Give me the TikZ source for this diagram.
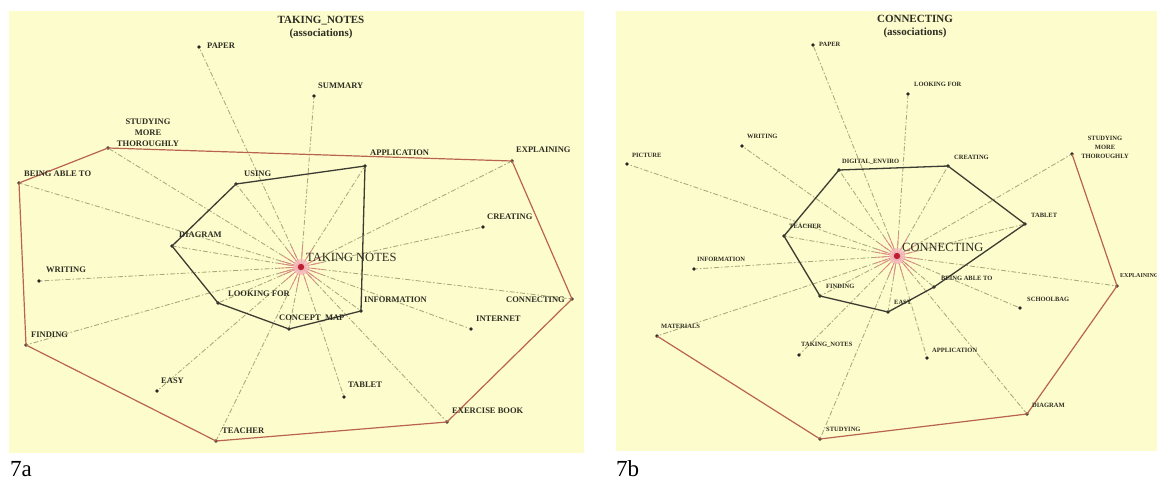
\documentclass[tikz,border=0pt]{standalone}
\usepackage{fontspec}
\setmainfont{Liberation Serif}
\usetikzlibrary{calc}
\definecolor{bgY}{RGB}{253,252,204}
\definecolor{hullR}{RGB}{185,100,80}
\definecolor{hullK}{RGB}{60,60,50}
\definecolor{assocC}{RGB}{168,168,128}
\definecolor{txtC}{RGB}{45,45,35}
\definecolor{spikeC}{RGB}{228,130,130}
\definecolor{haloC}{RGB}{245,185,190}
\definecolor{coreC}{RGB}{190,30,50}
\tikzset{
 dot/.style={circle,fill=black!85,inner sep=0pt,minimum size=3.6pt},
 lblA/.style={anchor=west,inner sep=0pt,font=\fontsize{8.5}{9}\selectfont\bfseries,text=txtC},
 lblB/.style={anchor=west,inner sep=0pt,font=\fontsize{6.5}{7}\selectfont\bfseries,text=txtC},
 assoc/.style={draw=assocC,line width=0.85pt,dash pattern=on 5pt off 2pt on 1.5pt off 2pt},
 hullred/.style={draw=hullR,line width=1.2pt,line join=round},
 hullblack/.style={draw=hullK,line width=1.3pt,line join=round},
 spike/.style={draw=spikeC,line width=0.7pt},
 bigl/.style={anchor=west,inner sep=0pt,font=\fontsize{12.5}{13}\selectfont,text=txtC},
 ttl/.style={inner sep=0pt,font=\fontsize{11}{12}\selectfont\bfseries,text=txtC},
 panel/.style={fill=bgY,draw=none},
 caption/.style={anchor=base west,inner sep=0pt,font=\fontsize{23}{25}\selectfont},
}
\begin{document}
\begin{tikzpicture}[x=1pt,y=-1pt]
\useasboundingbox (0,0) rectangle (1157,479);
\fill[white] (0,0) rectangle (1157,479);
\fill[panel] (9,11) rectangle (584,453);
\fill[panel] (616,11) rectangle (1157,451);

% ---------------- left panel (7a) ----------------
\node[ttl] (aTitle) at (321,21) {TAKING\_NOTES};
\node[ttl] (aSub) at (321,34) {(associations)};
\coordinate (aC) at (301,267);
\node[dot] (aPaper) at (199,47) {};
\node[dot] (aSumm) at (314,96) {};
\node[dot] (aStudy) at (108,148) {};
\node[dot] (aBeing) at (19,183) {};
\node[dot] (aUsing) at (236,184) {};
\node[dot] (aAppl) at (365,166) {};
\node[dot] (aExpl) at (512,161) {};
\node[dot] (aCreat) at (483,227) {};
\node[dot] (aDiag) at (172,246) {};
\node[dot] (aWrit) at (39,281) {};
\node[dot] (aLook) at (218,303) {};
\node[dot] (aConc) at (289,329) {};
\node[dot] (aInfo) at (361,311) {};
\node[dot] (aConn) at (572,299) {};
\node[dot] (aInter) at (471,329) {};
\node[dot] (aFind) at (26,345) {};
\node[dot] (aEasy) at (157,391) {};
\node[dot] (aTab) at (344,397) {};
\node[dot] (aTeach) at (216,441) {};
\node[dot] (aExer) at (447,422) {};

\foreach \n in {aPaper,aSumm,aStudy,aBeing,aUsing,aAppl,aExpl,aCreat,aDiag,aWrit,aLook,aConc,aInfo,aConn,aInter,aFind,aEasy,aTab,aTeach,aExer}
  \draw[assoc] (aC) -- (\n);
\foreach \n in {aPaper,aSumm,aStudy,aBeing,aUsing,aAppl,aExpl,aCreat,aDiag,aWrit,aLook,aConc,aInfo,aConn,aInter,aFind,aEasy,aTab,aTeach,aExer}
  \draw[spike] (aC) -- ($(aC)!22pt!(\n)$);

\draw[hullred] (aBeing.center) -- (aStudy.center) -- (aExpl.center) -- (aConn.center) -- (aExer.center) -- (aTeach.center) -- (aFind.center) -- cycle;
\draw[hullblack] (aUsing.center) -- (aAppl.center) -- (aInfo.center) -- (aConc.center) -- (aLook.center) -- (aDiag.center) -- cycle;

\fill[haloC,opacity=0.8] (aC) circle (8pt);
\fill[coreC] (aC) circle (3.2pt);

\node[lblA] (aPaperT) at (207,46) {PAPER};
\node[lblA] (aSummT) at (318,86) {SUMMARY};
\node[lblA,anchor=center,align=center,font=\fontsize{8.5}{11}\selectfont\bfseries] (aStudyT) at (148,133) {STUDYING\\MORE\\THOROUGHLY};
\node[lblA] (aBeingT) at (24,174) {BEING ABLE TO};
\node[lblA] (aUsingT) at (244,174) {USING};
\node[lblA] (aApplT) at (370,153) {APPLICATION};
\node[lblA] (aExplT) at (516,150) {EXPLAINING};
\node[lblA] (aCreatT) at (487,217) {CREATING};
\node[lblA] (aDiagT) at (179,235) {DIAGRAM};
\node[bigl] (aCT) at (306,257) {TAKING NOTES};
\node[lblA] (aWritT) at (46,270) {WRITING};
\node[lblA] (aLookT) at (228,294) {LOOKING FOR};
\node[lblA] (aConcT) at (279,318) {CONCEPT\_MAP};
\node[lblA] (aInfoT) at (364,300) {INFORMATION};
\node[lblA,anchor=east] (aConnT) at (565,300) {CONNECTING};
\node[lblA] (aInterT) at (476,319) {INTERNET};
\node[lblA] (aFindT) at (31,335) {FINDING};
\node[lblA] (aEasyT) at (161,381) {EASY};
\node[lblA] (aTabT) at (348,385) {TABLET};
\node[lblA] (aTeachT) at (222,431) {TEACHER};
\node[lblA] (aExerT) at (452,411) {EXERCISE BOOK};

% ---------------- right panel (7b) ----------------
\node[ttl] (bTitle) at (915,19) {CONNECTING};
\node[ttl] (bSub) at (915,33) {(associations)};
\coordinate (bC) at (897,256);
\node[dot] (bPaper) at (813,45) {};
\node[dot] (bLook) at (908,94) {};
\node[dot] (bWrit) at (742,146) {};
\node[dot] (bPict) at (627,164) {};
\node[dot] (bDig) at (839,170) {};
\node[dot] (bCreat) at (948,166) {};
\node[dot] (bStudy) at (1072,154) {};
\node[dot] (bTab) at (1025,224) {};
\node[dot] (bTeach) at (784,236) {};
\node[dot] (bInfo) at (694,269) {};
\node[dot] (bExpl) at (1117,286) {};
\node[dot] (bBeing) at (934,287) {};
\node[dot] (bFind) at (820,296) {};
\node[dot] (bEasy) at (888,312) {};
\node[dot] (bSchool) at (1020,308) {};
\node[dot] (bMat) at (657,336) {};
\node[dot] (bTak) at (799,355) {};
\node[dot] (bAppl) at (927,358) {};
\node[dot] (bDiag) at (1027,414) {};
\node[dot] (bStudying) at (820,439) {};

\foreach \n in {bPaper,bLook,bWrit,bPict,bDig,bCreat,bStudy,bTab,bTeach,bInfo,bExpl,bBeing,bFind,bEasy,bSchool,bMat,bTak,bAppl,bDiag,bStudying}
  \draw[assoc] (bC) -- (\n);
\foreach \n in {bPaper,bLook,bWrit,bPict,bDig,bCreat,bStudy,bTab,bTeach,bInfo,bExpl,bBeing,bFind,bEasy,bSchool,bMat,bTak,bAppl,bDiag,bStudying}
  \draw[spike] (bC) -- ($(bC)!22pt!(\n)$);

\draw[hullred] (bStudy.center) -- (bExpl.center) -- (bDiag.center) -- (bStudying.center) -- (bMat.center);
\draw[hullblack] (bDig.center) -- (bCreat.center) -- (bTab.center) -- (bBeing.center) -- (bEasy.center) -- (bFind.center) -- (bTeach.center) -- cycle;

\fill[haloC,opacity=0.8] (bC) circle (8pt);
\fill[coreC] (bC) circle (3.2pt);

\node[lblB] (bPaperT) at (819,44) {PAPER};
\node[lblB] (bLookT) at (914,84) {LOOKING FOR};
\node[lblB] (bWritT) at (747,136) {WRITING};
\node[lblB] (bPictT) at (632,155) {PICTURE};
\node[lblB] (bDigT) at (842,162) {DIGITAL\_ENVIRO};
\node[lblB] (bCreatT) at (954,157) {CREATING};
\node[lblB,anchor=center,align=center,font=\fontsize{6.5}{9}\selectfont\bfseries] (bStudyT) at (1105,147) {STUDYING\\MORE\\THOROUGHLY};
\node[lblB] (bTabT) at (1031,215) {TABLET};
\node[lblB] (bTeachT) at (789,226) {TEACHER};
\node[bigl] (bCT) at (902,247) {CONNECTING};
\node[lblB] (bInfoT) at (697,259) {INFORMATION};
\node[lblB,font=\fontsize{6}{7}\selectfont\bfseries] (bExplT) at (1120,276) {EXPLAINING};
\node[lblB] (bBeingT) at (941,278) {BEING ABLE TO};
\node[lblB] (bFindT) at (826,286) {FINDING};
\node[lblB] (bEasyT) at (894,302) {EASY};
\node[lblB] (bSchoolT) at (1027,299) {SCHOOLBAG};
\node[lblB] (bMatT) at (661,326) {MATERIALS};
\node[lblB] (bTakT) at (801,345) {TAKING\_NOTES};
\node[lblB] (bApplT) at (932,350) {APPLICATION};
\node[lblB] (bDiagT) at (1032,405) {DIAGRAM};
\node[lblB] (bStudyingT) at (826,429) {STUDYING};

% captions
\node[caption] (capA) at (10,476) {7a};
\node[caption] (capB) at (616,476) {7b};
\end{tikzpicture}
\end{document}
